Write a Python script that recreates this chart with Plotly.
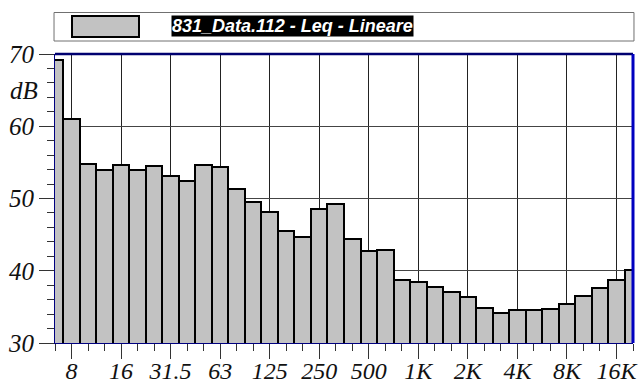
import plotly.graph_objects as go

bands = ["6.3", "8", "10", "12.5", "16", "20", "25", "31.5", "40", "50", "63", "80",
         "100", "125", "160", "200", "250", "315", "400", "500", "630", "800", "1K",
         "1.25K", "1.6K", "2K", "2.5K", "3.15K", "4K", "5K", "6.3K", "8K", "10K",
         "12.5K", "16K", "20K"]
levels = [69.2, 61.0, 54.8, 53.9, 54.7, 54.0, 54.5, 53.1, 52.4, 54.7, 54.3, 51.3,
          49.5, 48.1, 45.5, 44.7, 48.6, 49.3, 44.4, 42.7, 42.9, 38.7, 38.4, 37.8,
          37.1, 36.3, 34.9, 34.1, 34.5, 34.5, 34.7, 35.4, 36.5, 37.6, 38.7, 40.1]
tick_labels = ["8", "16", "31.5", "63", "125", "250", "500", "1K", "2K", "4K", "8K", "16K"]
y_ticks = [30, 40, 50, 60, 70]
series_name = "831_Data.112 - Leq - Lineare"
unit = "dB"

xpos = list(range(len(bands)))
tickvals = [bands.index(t) for t in tick_labels]

serif = "'Times New Roman', 'Liberation Serif', Times, serif"
tfont = dict(family=serif, size=25, color="#111")
xfont = dict(family=serif, size=24, color="#111")

fig = go.Figure()
fig.add_trace(go.Bar(
    x=xpos, y=levels, width=1.0,
    marker=dict(color="#c2c2c2", line=dict(color="black", width=2)),
    hovertext=bands, name=series_name, showlegend=False,
))

fig.update_layout(
    width=644, height=383,
    margin=dict(l=55, r=11, t=54, b=40),
    paper_bgcolor="white", plot_bgcolor="white",
    bargap=0,
    xaxis=dict(
        range=[0, len(bands) - 1],
        tickmode="array", tickvals=tickvals, ticktext=["<i>" + t + "</i>" for t in tick_labels],
        ticks="outside", ticklen=15, tickwidth=1, tickcolor="#333",
        automargin=False, ticklabelstandoff=-9,
        showgrid=True, gridcolor="#222", gridwidth=1,
        showline=True, linecolor="#000080", linewidth=1,
        zeroline=False,
        tickfont=xfont,
        minor=dict(dtick=1, tick0=0, ticks="outside", ticklen=7, tickcolor="#333", showgrid=False),
    ),
    yaxis=dict(
        range=[30, 70],
        tickmode="array", tickvals=y_ticks, ticktext=["<i>%d</i>" % v for v in y_ticks],
        ticks="outside", ticklen=15, tickwidth=1, tickcolor="#333",
        automargin=False,
        showgrid=True, gridcolor="#444", gridwidth=1,
        showline=True, linecolor="#000080", linewidth=1,
        zeroline=False,
        tickfont=tfont,
        minor=dict(dtick=2, tick0=30, ticks="outside", ticklen=7, tickcolor="#333", showgrid=False),
    ),
)

# thick top and right frame lines
fig.add_shape(type="line", xref="paper", yref="paper", x0=0, x1=1, y0=1, y1=1,
              line=dict(color="#000070", width=2.5))
fig.add_shape(type="line", xref="paper", yref="paper", x0=1, x1=1, y0=0, y1=1,
              line=dict(color="#0000c0", width=3))

# unit label
fig.add_annotation(text="<i>" + unit + "</i>", xref="paper", yref="y", x=0, y=65, xanchor="right",
                   xshift=-15, yanchor="middle", showarrow=False, font=tfont)

# legend box
fig.add_shape(type="rect", xref="paper", yref="paper",
              x0=-0.0017, x1=1.0017, y0=1 + (54 - 41) / 289, y1=1 + (54 - 12.5) / 289,
              line=dict(color="#707070", width=1), fillcolor="white")
fig.add_shape(type="rect", xref="paper", yref="paper",
              x0=(72 - 55) / 578, x1=(139 - 55) / 578,
              y0=1 + (54 - 37) / 289, y1=1 + (54 - 16) / 289,
              line=dict(color="black", width=2), fillcolor="#c2c2c2")
fig.add_annotation(text="<b><i>" + series_name + "</i></b>", xref="paper", yref="paper",
                   x=(171 - 55) / 578, y=1 + (54 - 26.5) / 289, xanchor="left", yanchor="middle",
                   showarrow=False, bgcolor="black", borderpad=0,
                   font=dict(family="Liberation Sans", size=18, color="white"))

fig.write_html("out.html")
